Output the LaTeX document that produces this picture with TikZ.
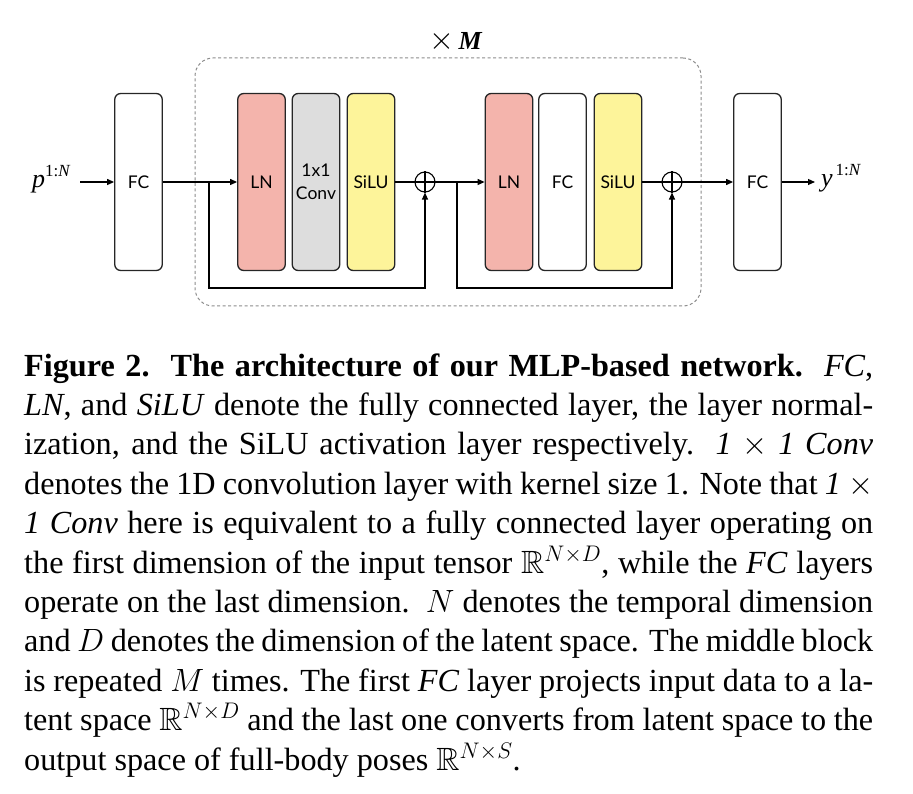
\RequirePackage{fix-cm}
\documentclass[tikz,border=0pt]{standalone}
\usepackage{amssymb}
\DeclareFontFamily{U}{msb}{}
\DeclareFontShape{U}{msb}{m}{n}{<-> msbm10}{}
\usepackage{fontspec}
\setmainfont{Liberation Serif}
\newfontfamily\boxfont{Lato}
\usetikzlibrary{arrows.meta}
\definecolor{lnpink}{HTML}{F4B4AC}
\definecolor{convgray}{HTML}{DDDDDD}
\definecolor{siluyellow}{HTML}{FDF49A}
\definecolor{dashgray}{HTML}{8C8C8C}
\newcommand\capfont{\fontsize{32.2}{39.4}\selectfont}
\newcommand\capline[1]{\hbox to 849pt{#1}}
\newcommand\caplast[1]{\hbox to 849pt{#1\hfil}}
\tikzset{
  blk/.style={draw=black!85, line width=1.3pt, rounded corners=6pt,
    minimum width=47.5pt, minimum height=177pt, inner sep=0pt,
    font=\boxfont\fontsize{17.5}{23}\selectfont, align=center},
  arr/.style={-{Triangle[length=7pt,width=6pt]}, line width=1.1pt},
  plain/.style={line width=1.1pt},
  sumnode/.style={draw, circle, line width=1.1pt, minimum size=20pt, inner sep=0pt},
  dashbox/.style={draw=dashgray, dash pattern=on 3pt off 2.5pt, line width=1pt,
    rounded corners=18pt, minimum width=506pt, minimum height=248pt, inner sep=0pt},
  capnode/.style={anchor=base west, inner sep=0pt, font=\capfont}
}
\begin{document}
\begin{tikzpicture}[x=1pt,y=-1pt]
\useasboundingbox (0,0) rectangle (913,794);
% repeated block frame
\node[dashbox] (rep) at (448,182) {};
\node[anchor=base, inner sep=0pt, font=\fontsize{26}{26}\selectfont] (times) at (456,50)
  {{\fontsize{32}{32}\selectfont$\times$}\,\textbf{\textit{M}}};
% blocks
\node[blk] (fc1) at (138.5,182) {FC};
\node[blk, fill=lnpink] (ln1) at (261.5,182) {LN};
\node[blk, fill=convgray] (conv) at (316,182) {1x1\\Conv};
\node[blk, fill=siluyellow] (silu1) at (371,182) {SiLU};
\node[sumnode] (plus1) at (425,182) {};
\node[blk, fill=lnpink] (ln2) at (509,182) {LN};
\node[blk] (fc2) at (562.5,182) {FC};
\node[blk, fill=siluyellow] (silu2) at (618,182) {SiLU};
\node[sumnode] (plus2) at (672,182) {};
\node[blk] (fc3) at (757.5,182) {FC};
% input / output labels
\node[anchor=base west, inner sep=0pt] (pin) at (32,188)
  {\fontsize{26}{26}\selectfont\textit{p}\raisebox{11.5pt}{\fontsize{17}{17}\selectfont 1:\textit{N}}};
\node[anchor=base west, inner sep=0pt] (yout) at (821,187)
  {\fontsize{26}{26}\selectfont\textit{y}\raisebox{11.5pt}{\fontsize{17}{17}\selectfont\,1:\textit{N}}};
% plus signs
\draw[plain] (plus1.north) -- (plus1.south) (plus1.west) -- (plus1.east);
\draw[plain] (plus2.north) -- (plus2.south) (plus2.west) -- (plus2.east);
% junctions
\coordinate (j1) at (209,182);
\coordinate (r1) at (209,288);
\coordinate (j2) at (457,182);
\coordinate (r2) at (457,288);
\coordinate (pend) at (80,182);
\coordinate (yend) at (815,182);
% connectors
\draw[arr] (pend) -- (fc1.west);
\draw[arr] (fc1.east) -- (ln1.west);
\draw[arr] (j1) -- (r1) -| (plus1.south);
\draw[plain] (silu1.east) -- (plus1.west);
\draw[arr] (plus1.east) -- (ln2.west);
\draw[arr] (j2) -- (r2) -| (plus2.south);
\draw[plain] (silu2.east) -- (plus2.west);
\draw[arr] (plus2.east) -- (fc3.west);
\draw[arr] (fc3.east) -- (yend);
% caption
\node[capnode] (c1) at (24,376) {\capline{\textbf{Figure 2.\ \ The architecture of our MLP-based network.}\ \ \textit{FC},}};
\node[capnode] (c2) at (24,415.4) {\capline{\textit{LN}, and \textit{SiLU} denote the fully connected layer, the layer normal-}};
\node[capnode] (c3) at (24,454.8) {\capline{ization, and the SiLU activation layer respectively.\ \ \textit{1 $\times$ 1 Conv}}};
\node[capnode] (c4) at (24,494.2) {\capline{denotes the 1D convolution layer with kernel size 1. Note that \textit{1 $\times$}}};
\node[capnode] (c5) at (24,533.6) {\capline{\textit{1 Conv} here is equivalent to a fully connected layer operating on}};
\node[capnode] (c6) at (24,573) {\capline{the first dimension of the input tensor $\mathbb{R}^{N\times D}$, while the \textit{FC} layers}};
\node[capnode] (c7) at (24,612.4) {\capline{operate on the last dimension.\ \ $N$ denotes the temporal dimension}};
\node[capnode] (c8) at (24,651.8) {\capline{and $D$ denotes the dimension of the latent space. The middle block}};
\node[capnode] (c9) at (24,691.2) {\capline{is repeated $M$ times. The first \textit{FC} layer projects input data to a la-}};
\node[capnode] (c10) at (24,730.6) {\capline{tent space $\mathbb{R}^{N\times D}$ and the last one converts from latent space to the}};
\node[capnode] (c11) at (24,770) {\caplast{output space of full-body poses $\mathbb{R}^{N\times S}$.}};
\end{tikzpicture}
\end{document}
